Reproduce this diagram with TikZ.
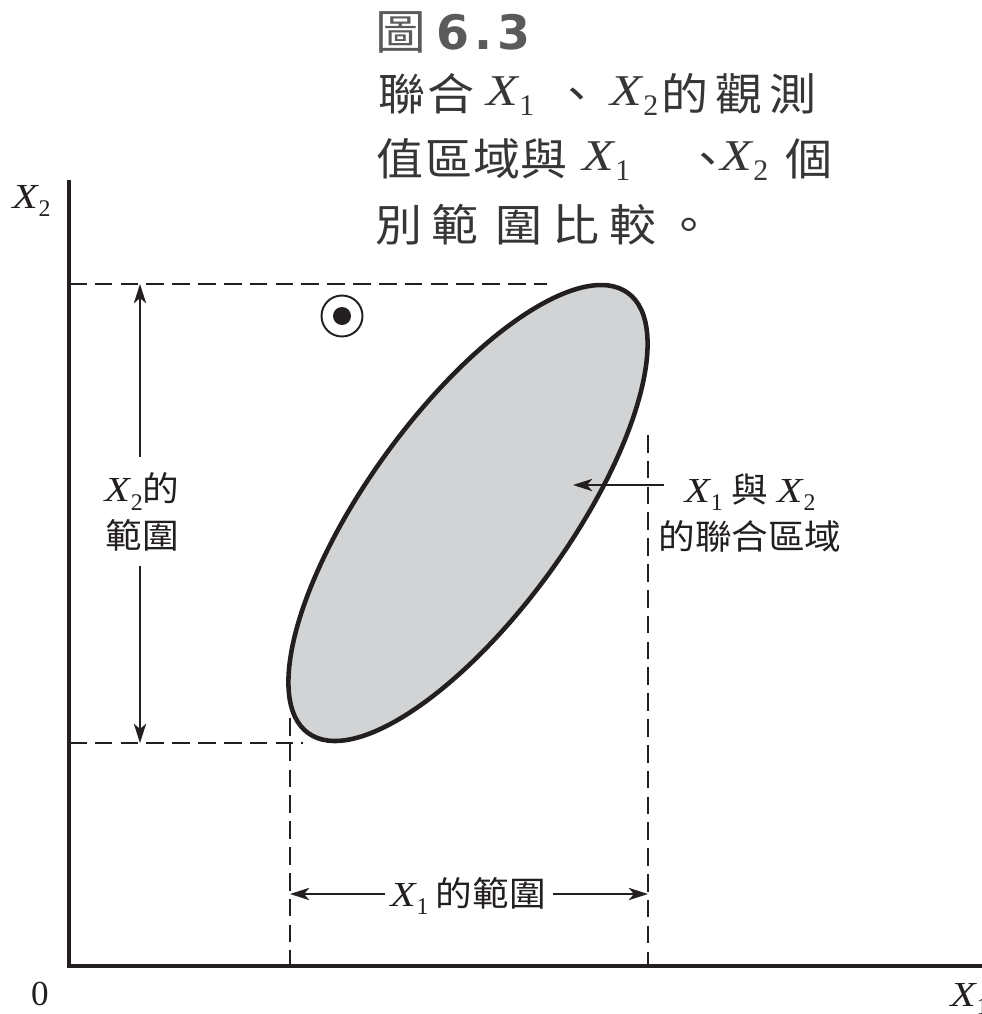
\documentclass[tikz,border=0pt]{standalone}
\usepackage{fontspec}
\setmainfont{Liberation Serif}
\newfontfamily\cjk{Noto Sans CJK TC}[FakeStretch=1.07]
\newfontfamily\xfont{Liberation Serif}[FakeStretch=1.18]
\newfontfamily\headsans{DejaVu Sans}
\usetikzlibrary{arrows.meta}
\definecolor{ink}{HTML}{231F20}
\definecolor{fillgray}{HTML}{D1D3D4}
\definecolor{titlegray}{HTML}{363636}
\definecolor{headgray}{HTML}{5A5A5A}
\newcommand\XX[1]{{\xfont\itshape X}\kern0.03em\raisebox{-0.25em}{\scalebox{0.68}{#1}}}
\begin{document}
\begin{tikzpicture}[x=0.02cm,y=0.02cm,
  axisline/.style={line width=1.9pt, draw=ink},
  guide/.style={line width=1.3pt, draw=ink, dash pattern=on 10pt off 4.7pt},
  rangearrow/.style={line width=1pt, draw=ink, -{Stealth[length=11pt,width=7pt,inset=3pt]}},
  region/.style={line width=2.6pt, draw=ink, fill=fillgray},
  lbl/.style={inner sep=0pt, text=ink, font=\fontsize{20}{27}\selectfont},
  ttl/.style={inner sep=0pt, anchor=base west, text=titlegray, font=\fontsize{25}{28}\selectfont\cjk},
  ttlx/.style={inner sep=0pt, anchor=base west, text=titlegray, font=\fontsize{25}{28}\selectfont}]
\useasboundingbox (0,0) rectangle (982,-1014);

% heading
\node[ttl, text=headgray, font=\fontsize{27}{28}\selectfont\cjk] (hA) at (375,-50) {圖};
\node[ttl, text=headgray, font=\fontsize{27}{28}\selectfont\headsans\bfseries] (hB) at (436,-50) {6\hspace{3pt}.\hspace{3pt}3};

% title line 1
\node[ttl] (l1a) at (378,-110) {聯\hspace{1pt}合};
\node[ttlx] (l1b) at (486,-105) {\XX{1}};
\node[ttl] (l1c) at (553,-110) {、};
\node[ttlx] (l1d) at (610,-105) {\XX{2}};
\node[ttl] (l1e) at (661,-110) {的\hspace{4pt}觀\hspace{4pt}測};
% title line 2
\node[ttl] (l2a) at (376,-175) {值\hspace{1pt}區\hspace{1pt}域\hspace{0pt}與};
\node[ttlx] (l2b) at (582,-170) {\XX{1}};
\node[ttl] (l2c) at (684,-175) {、};
\node[ttlx] (l2d) at (720,-170) {\XX{2}};
\node[ttl] (l2e) at (785,-175) {個};
% title line 3
\node[ttl] (l3a) at (375,-241) {別};
\node[ttl] (l3b) at (431,-241) {範};
\node[ttl] (l3c) at (495,-241) {圍};
\node[ttl] (l3d) at (552,-241) {比};
\node[ttl] (l3e) at (609,-241) {較};
\node[ttl] (l3f) at (665,-241) {。};

% axes
\coordinate (O) at (69,-966);
\coordinate (Ytop) at (69,-180);
\coordinate (Xend) at (982,-966);
\draw[axisline] (Ytop) -- (O) -- (Xend);
\node[lbl, anchor=base west] (ylab) at (12,-208) {\XX{2}};
\node[lbl, anchor=base] (zero) at (40,-1005) {0};
\node[lbl, anchor=base west] (xlab) at (950,-1006) {\XX{1}};

% guide lines
\coordinate (tA) at (69,-284);
\coordinate (tB) at (547,-284);
\coordinate (bA) at (69,-743);
\coordinate (bB) at (303,-743);
\coordinate (lA) at (290,-718);
\coordinate (lB) at (290,-966);
\coordinate (rA) at (648,-435);
\coordinate (rB) at (648,-966);
\draw[guide] (tA) -- (tB);
\draw[guide] (bA) -- (bB);
\draw[guide] (lA) -- (lB);
\draw[guide] (rA) -- (rB);

% joint region
\draw[region, shift={(468,-513)}, rotate=54] (0,0) ellipse [x radius=272, y radius=101];

% bullseye
\coordinate (bull) at (342,-316);
\draw[ink, line width=1.1pt] (bull) circle [radius=20.5];
\fill[ink] (bull) circle [radius=9];

% X2 range
\node[lbl, align=center] (x2r) at (142,-512) {\XX{2}{\cjk\fontsize{19.5}{27}\selectfont 的}\\{\cjk\fontsize{19.5}{27}\selectfont 範圍}};
\coordinate (v1) at (140,-457);
\coordinate (v2) at (140,-284);
\coordinate (v3) at (140,-566);
\coordinate (v4) at (140,-743);
\draw[rangearrow] (v1) -- (v2);
\draw[rangearrow] (v3) -- (v4);

% X1 range
\node[lbl] (x1r) at (468,-896) {\XX{1}\hspace{4pt}{\cjk\fontsize{19.5}{27}\selectfont 的範圍}};
\coordinate (h1) at (385,-894);
\coordinate (h2) at (290,-894);
\coordinate (h3) at (553,-894);
\coordinate (h4) at (648,-894);
\draw[rangearrow] (h1) -- (h2);
\draw[rangearrow] (h3) -- (h4);

% joint label
\node[lbl, align=center] (jl) at (750,-513) {\XX{1}\hspace{5pt}{\cjk\fontsize{19.5}{27}\selectfont 與}\hspace{5pt}\XX{2}\\{\cjk\fontsize{19.5}{27}\selectfont 的聯合區域}};
\coordinate (j1) at (664,-485);
\coordinate (j2) at (573,-485);
\draw[rangearrow] (j1) -- (j2);
\end{tikzpicture}
\end{document}
